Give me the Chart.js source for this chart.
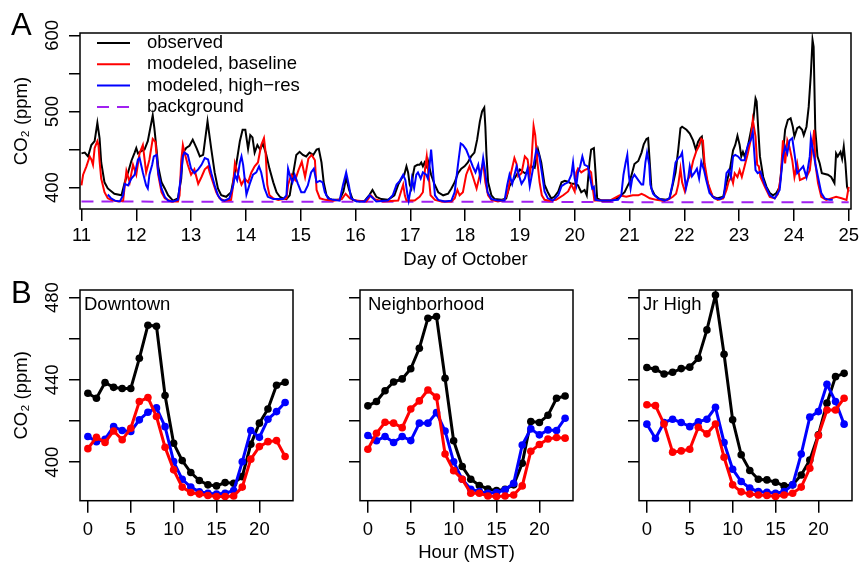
<!DOCTYPE html>
<html>
<head>
<meta charset="utf-8">
<script src="https://cdn.jsdelivr.net/npm/chart.js@4.4.1/dist/chart.umd.min.js"></script>
<style>
  html, body { margin: 0; padding: 0; background: #fff; overflow: hidden; }
  #wrap { position: relative; width: 859px; height: 563px; font-family: "Liberation Sans", Arial, sans-serif; }
  canvas { position: absolute; }
  .tag { position: absolute; font-size: 31px; line-height: 31px; color: #000; }
</style>
</head>
<body>
<div id="wrap">
  <canvas id="chartA" width="859" height="280" style="left:0;top:0"></canvas>
  <canvas id="chartB1" width="300" height="283" style="left:0;top:280px"></canvas>
  <canvas id="chartB2" width="300" height="283" style="left:280px;top:280px"></canvas>
  <canvas id="chartB3" width="300" height="283" style="left:559px;top:280px"></canvas>
  <div class="tag" style="left:11px;top:9px">A</div>
  <div class="tag" style="left:11px;top:277px">B</div>
</div>
<script>
// panel A: CO2 at the site, 11-25 October  [day, ppm]
const dayTicks = [11, 12, 13, 14, 15, 16, 17, 18, 19, 20, 21, 22, 23, 24, 25];
const ppmTicksA = [400, 450, 500, 550, 600];
const ppmLabelsA = [400, 500, 600];

const observed = [[11.00,445],[11.06,446],[11.12,441],[11.18,456],[11.24,461],[11.29,485],[11.33,465],[11.36,433],[11.42,407],[11.48,399],[11.60,392],[11.73,390],[11.79,407],[11.85,420],[11.91,435],[11.97,446],[12.00,452],[12.03,445],[12.09,448],[12.15,450],[12.21,461],[12.30,495],[12.33,478],[12.37,450],[12.40,428],[12.46,407],[12.52,399],[12.58,390],[12.67,383],[12.76,386],[12.82,412],[12.85,446],[12.91,452],[12.97,455],[13.03,463],[13.10,452],[13.16,441],[13.22,443],[13.30,487],[13.37,450],[13.43,420],[13.49,399],[13.55,390],[13.64,388],[13.73,394],[13.79,417],[13.83,433],[13.89,461],[13.94,476],[13.99,476],[14.04,451],[14.08,469],[14.12,466],[14.16,446],[14.21,456],[14.26,450],[14.31,458],[14.37,444],[14.43,425],[14.50,407],[14.56,394],[14.62,388],[14.68,386],[14.74,385],[14.80,390],[14.86,417],[14.92,443],[14.98,447],[15.04,443],[15.10,441],[15.16,446],[15.23,443],[15.29,450],[15.33,451],[15.38,433],[15.42,407],[15.47,390],[15.53,385],[15.59,384],[15.71,384],[15.78,395],[15.83,413],[15.88,398],[15.95,384],[16.08,382],[16.17,383],[16.26,391],[16.31,397],[16.38,388],[16.47,385],[16.59,384],[16.71,390],[16.78,404],[16.84,412],[16.89,417],[16.93,428],[16.96,420],[16.99,404],[17.02,399],[17.05,417],[17.08,428],[17.13,430],[17.17,430],[17.20,433],[17.23,428],[17.26,433],[17.29,428],[17.32,436],[17.38,417],[17.44,405],[17.51,394],[17.60,390],[17.69,392],[17.75,399],[17.81,407],[17.87,419],[17.93,425],[17.99,428],[18.05,433],[18.11,441],[18.17,446],[18.22,463],[18.27,487],[18.31,500],[18.35,505],[18.37,480],[18.39,443],[18.42,407],[18.48,390],[18.54,385],[18.66,384],[18.75,386],[18.81,402],[18.90,412],[19.00,424],[19.09,419],[19.15,421],[19.21,428],[19.27,426],[19.33,450],[19.39,433],[19.45,404],[19.51,394],[19.57,386],[19.63,388],[19.70,395],[19.76,407],[19.82,409],[19.88,408],[19.94,405],[20.00,405],[20.06,403],[20.12,394],[20.18,397],[20.22,390],[20.27,433],[20.30,450],[20.35,452],[20.38,420],[20.41,386],[20.49,383],[20.64,383],[20.76,385],[20.85,390],[20.91,394],[20.97,403],[21.00,407],[21.05,420],[21.09,431],[21.16,435],[21.22,446],[21.26,457],[21.31,464],[21.34,465],[21.37,433],[21.40,399],[21.46,390],[21.55,385],[21.67,384],[21.73,386],[21.79,404],[21.84,420],[21.89,450],[21.93,478],[21.96,480],[22.04,476],[22.10,471],[22.16,462],[22.21,450],[22.25,460],[22.29,465],[22.32,467],[22.36,432],[22.40,414],[22.46,397],[22.52,388],[22.61,386],[22.71,388],[22.77,406],[22.83,423],[22.89,449],[22.93,456],[22.97,468],[23.01,456],[23.04,441],[23.07,447],[23.10,441],[23.16,454],[23.22,476],[23.26,489],[23.30,517],[23.32,513],[23.35,476],[23.38,441],[23.44,414],[23.50,401],[23.56,393],[23.62,390],[23.68,393],[23.74,401],[23.80,445],[23.84,476],[23.89,489],[23.94,491],[23.98,480],[24.01,467],[24.06,478],[24.10,480],[24.15,476],[24.18,469],[24.23,480],[24.27,506],[24.31,550],[24.34,594],[24.36,585],[24.39,476],[24.43,441],[24.47,432],[24.51,419],[24.62,417],[24.68,414],[24.74,406],[24.77,445],[24.80,441],[24.85,447],[24.88,438],[24.91,454],[24.94,432],[24.97,401],[25.00,395]];

const baseline = [[11.00,403],[11.03,417],[11.09,428],[11.15,441],[11.18,437],[11.21,430],[11.24,452],[11.29,461],[11.31,456],[11.33,435],[11.36,412],[11.42,394],[11.48,386],[11.54,384],[11.67,382],[11.76,383],[11.82,422],[11.88,407],[11.94,430],[12.00,417],[12.06,445],[12.12,456],[12.18,420],[12.24,437],[12.30,464],[12.35,460],[12.40,417],[12.46,394],[12.52,386],[12.64,382],[12.76,382],[12.79,390],[12.82,435],[12.85,456],[12.88,446],[12.94,430],[13.00,417],[13.06,424],[13.13,405],[13.19,414],[13.25,424],[13.31,428],[13.34,420],[13.40,407],[13.46,394],[13.52,386],[13.61,383],[13.73,384],[13.76,399],[13.80,432],[13.86,417],[13.92,404],[13.98,412],[14.04,407],[14.10,420],[14.16,428],[14.22,433],[14.28,456],[14.33,465],[14.36,446],[14.39,404],[14.43,390],[14.50,386],[14.59,384],[14.74,386],[14.77,404],[14.83,417],[14.90,410],[14.96,423],[15.02,434],[15.08,414],[15.14,438],[15.20,443],[15.26,436],[15.29,397],[15.35,386],[15.45,384],[15.60,383],[15.75,385],[15.82,392],[15.90,386],[16.00,383],[16.20,382],[16.28,390],[16.35,385],[16.50,382],[16.78,383],[16.81,390],[16.87,404],[16.90,390],[16.93,383],[17.08,383],[17.17,388],[17.23,394],[17.27,425],[17.30,441],[17.34,412],[17.37,390],[17.45,384],[17.57,382],[17.75,382],[17.81,386],[17.86,397],[17.90,390],[17.96,394],[18.02,417],[18.08,428],[18.14,415],[18.21,399],[18.27,417],[18.33,433],[18.37,407],[18.42,390],[18.48,384],[18.60,382],[18.72,384],[18.78,394],[18.84,420],[18.90,439],[18.94,431],[18.97,415],[19.03,419],[19.09,441],[19.14,437],[19.18,417],[19.21,433],[19.25,481],[19.28,469],[19.32,433],[19.36,407],[19.40,390],[19.45,384],[19.54,383],[19.66,384],[19.79,390],[19.88,395],[19.94,404],[20.00,395],[20.03,420],[20.06,425],[20.12,420],[20.18,423],[20.24,425],[20.30,420],[20.33,399],[20.36,383],[20.64,383],[20.82,390],[20.94,388],[21.06,390],[21.16,390],[21.22,392],[21.28,390],[21.37,386],[21.49,384],[21.61,383],[21.70,384],[21.79,388],[21.85,392],[21.89,404],[21.93,425],[21.96,407],[22.01,395],[22.06,410],[22.10,415],[22.16,435],[22.22,448],[22.27,455],[22.31,464],[22.34,462],[22.37,432],[22.43,406],[22.52,388],[22.61,384],[22.71,386],[22.77,397],[22.81,408],[22.86,414],[22.89,406],[22.92,419],[22.97,414],[23.01,423],[23.05,414],[23.10,428],[23.16,445],[23.21,462],[23.25,489],[23.30,467],[23.33,430],[23.36,428],[23.39,414],[23.47,401],[23.56,388],[23.65,386],[23.71,392],[23.76,414],[23.80,462],[23.84,432],[23.88,462],[23.92,453],[23.97,436],[24.01,414],[24.06,432],[24.11,410],[24.17,412],[24.23,414],[24.29,423],[24.33,449],[24.37,476],[24.39,432],[24.44,406],[24.50,388],[24.59,384],[24.68,386],[24.77,388],[24.87,386],[24.96,384],[25.00,401]];

const highres = [[11.48,391],[11.54,386],[11.61,383],[11.70,382],[11.76,390],[11.79,405],[11.85,403],[11.91,412],[11.97,417],[12.03,437],[12.06,439],[12.12,420],[12.18,403],[12.21,399],[12.24,417],[12.29,430],[12.32,441],[12.37,443],[12.40,420],[12.46,399],[12.52,388],[12.58,383],[12.67,382],[12.76,384],[12.81,412],[12.85,441],[12.88,446],[12.94,443],[13.00,425],[13.06,419],[13.13,424],[13.19,430],[13.25,439],[13.31,437],[13.37,419],[13.43,403],[13.49,390],[13.55,384],[13.61,383],[13.70,386],[13.77,403],[13.80,417],[13.84,410],[13.89,433],[13.92,441],[13.95,430],[14.01,391],[14.07,405],[14.13,417],[14.19,420],[14.24,428],[14.28,420],[14.34,399],[14.40,388],[14.50,385],[14.68,385],[14.74,390],[14.77,425],[14.80,417],[14.85,407],[14.89,417],[14.95,405],[15.01,394],[15.07,394],[15.13,403],[15.19,420],[15.24,425],[15.29,407],[15.35,409],[15.40,407],[15.44,394],[15.50,386],[15.59,384],[15.71,383],[15.77,403],[15.83,420],[15.88,403],[15.92,386],[16.02,382],[16.17,382],[16.26,390],[16.32,386],[16.38,382],[16.59,383],[16.68,390],[16.75,404],[16.81,409],[16.87,417],[16.91,410],[16.95,390],[16.97,383],[17.01,399],[17.03,412],[17.07,399],[17.11,417],[17.14,420],[17.19,412],[17.23,420],[17.29,417],[17.32,412],[17.35,428],[17.38,450],[17.41,425],[17.45,390],[17.51,384],[17.63,382],[17.75,383],[17.81,394],[17.87,430],[17.92,458],[17.96,456],[18.02,450],[18.08,439],[18.14,428],[18.19,420],[18.24,430],[18.28,412],[18.33,439],[18.36,425],[18.41,394],[18.48,385],[18.60,383],[18.72,383],[18.77,404],[18.81,417],[18.86,405],[18.94,428],[18.98,417],[19.03,405],[19.09,412],[19.14,425],[19.18,402],[19.24,425],[19.30,450],[19.35,443],[19.40,420],[19.45,395],[19.51,386],[19.60,383],[19.70,390],[19.76,402],[19.82,405],[19.88,407],[19.94,417],[19.97,433],[20.00,412],[20.03,403],[20.06,420],[20.10,428],[20.14,441],[20.18,430],[20.24,428],[20.27,417],[20.32,399],[20.35,401],[20.38,384],[20.46,383],[20.64,383],[20.79,384],[20.85,390],[20.89,417],[20.93,433],[20.96,443],[20.99,415],[21.02,399],[21.05,412],[21.09,417],[21.16,410],[21.22,404],[21.25,404],[21.29,433],[21.32,446],[21.36,430],[21.38,404],[21.43,392],[21.52,386],[21.64,383],[21.73,386],[21.79,407],[21.84,433],[21.89,439],[21.93,441],[21.96,446],[21.99,425],[22.03,399],[22.07,412],[22.10,428],[22.14,415],[22.19,420],[22.23,425],[22.27,412],[22.31,434],[22.36,423],[22.40,410],[22.46,393],[22.55,386],[22.65,385],[22.72,388],[22.77,419],[22.81,423],[22.85,414],[22.89,441],[22.93,443],[22.98,441],[23.04,436],[23.10,436],[23.16,456],[23.21,462],[23.25,473],[23.30,423],[23.34,419],[23.39,421],[23.47,404],[23.56,390],[23.65,386],[23.74,397],[23.80,441],[23.84,454],[23.88,445],[23.92,462],[23.97,465],[24.01,445],[24.06,419],[24.11,423],[24.17,428],[24.23,414],[24.29,441],[24.31,465],[24.35,449],[24.39,432],[24.44,414],[24.50,393],[24.56,386],[24.65,384],[24.71,384]];

const bgDays = [11, 13, 15, 17, 19, 21, 23, 25];
const bgPpm = [382, 381.5, 381.5, 381.5, 381.5, 381, 381, 381];

// panel B: mean diurnal cycle per site
const hours = [0,1,2,3,4,5,6,7,8,9,10,11,12,13,14,15,16,17,18,19,20,21,22,23];
const hourTicks = [0, 5, 10, 15, 20];
const ppmTicksB = [400, 420, 440, 460, 480];
const ppmLabelsB = [400, 440, 480];

const obsDown   = [433.5,431.1,438.7,436.4,435.8,435.8,450.5,466.6,466.1,432.4,409.2,400.8,395.0,391.1,389.0,388.5,390.1,389.8,393.0,408.7,419.0,425.9,437.4,438.9];
const baseDown  = [406.6,412.1,409.6,415.2,410.9,416.5,429.5,431.4,422.2,407.3,396.3,387.9,385.3,384.5,383.8,383.3,383.3,383.6,387.9,401.5,407.6,410.0,410.5,402.8];
const hiresDown = [412.5,410.0,411.2,417.3,415.4,414.9,420.6,424.3,426.4,417.3,400.3,391.7,387.9,385.6,384.9,384.5,384.9,386.2,400.2,415.4,412.1,420.9,424.6,429.0];

const obsNbhd   = [427.4,429.5,434.7,439.0,440.5,445.4,455.4,470.0,470.8,440.8,410.4,397.9,391.7,388.7,387.0,386.2,386.9,389.0,399.5,419.8,419.3,422.8,431.1,432.2];
const baseNbhd  = [406.3,414.1,419.4,419.0,416.8,425.9,429.8,435.1,431.7,404.0,395.9,391.7,384.9,384.9,383.6,383.3,383.6,384.1,388.5,405.3,408.6,411.3,412.0,411.7];
const hiresNbhd = [413.0,410.4,412.5,409.6,412.5,410.5,419.0,419.0,424.1,415.2,400.2,391.7,386.9,385.7,384.9,385.3,386.6,389.8,408.4,416.2,413.3,415.7,415.4,421.4];

const obsJr   = [446.0,445.2,442.9,443.7,445.5,446.2,450.5,464.3,481.3,452.5,420.6,403.6,396.0,391.7,391.4,390.3,388.5,389.0,393.8,401.1,413.3,428.7,441.6,443.2];
const baseJr  = [427.9,427.5,418.6,404.9,405.5,406.3,417.0,413.8,418.6,402.4,389.0,385.6,384.5,384.1,383.8,383.3,384.1,384.9,387.9,397.1,413.0,425.4,425.4,431.1];
const hiresJr = [418.5,411.5,419.3,420.9,419.3,417.3,419.6,420.9,426.7,409.6,396.6,390.6,387.4,385.7,385.4,384.9,385.7,389.0,404.0,421.9,424.6,437.9,429.5,418.5];

const FAMILY = "'Liberation Sans', Arial, sans-serif";
const FONT = { family: FAMILY, size: 18.5 };
Chart.defaults.color = "#000";
Chart.defaults.font.family = FAMILY;

// box around the plot region
const frame = {
  id: "frame",
  afterDraw(chart) {
    const { ctx, chartArea: a } = chart;
    ctx.save();
    ctx.strokeStyle = "#000";
    ctx.lineWidth = 1.5;
    ctx.strokeRect(a.left, a.top, a.right - a.left, a.bottom - a.top);
    ctx.restore();
  },
};

// legend drawn inside the top-left corner of panel A
const insetLegend = {
  id: "insetLegend",
  afterDraw(chart) {
    const { ctx, chartArea: a } = chart;
    ctx.save();
    ctx.font = "18.5px " + FAMILY;
    ctx.textBaseline = "middle";
    chart.data.datasets.forEach((ds, i) => {
      const y = a.top + 10 + i * 21.3;
      ctx.strokeStyle = ds.borderColor;
      ctx.lineWidth = 2;
      ctx.setLineDash(ds.borderDash || []);
      ctx.beginPath();
      ctx.moveTo(a.left + 17, y);
      ctx.lineTo(a.left + 50, y);
      ctx.stroke();
      ctx.setLineDash([]);
      ctx.fillStyle = "#000";
      ctx.fillText(ds.label, a.left + 67, y);
    });
    ctx.restore();
  },
};

// site name in the corner of each panel B plot
const siteName = {
  id: "siteName",
  afterDraw(chart, args, opts) {
    const { ctx, chartArea: a } = chart;
    ctx.save();
    ctx.font = "18.5px " + FAMILY;
    ctx.textBaseline = "middle";
    ctx.fillStyle = "#000";
    ctx.fillText(opts.text, a.left + opts.dx, a.top + 15);
    ctx.restore();
  },
};

function xAxis(ticks, min, max, height, pad, title, titlePad) {
  return {
    type: "linear", min: min, max: max,
    afterBuildTicks: (s) => { s.ticks = ticks.map((v) => ({ value: v })); },
    afterFit: (s) => { s.height = height; s.paddingLeft = 0; s.paddingRight = 0; },
    border: { display: false },
    grid: { drawOnChartArea: false, tickLength: 12, lineWidth: 1.5, color: "#000" },
    ticks: { font: FONT, color: "#000", maxRotation: 0, minRotation: 0, padding: pad, autoSkip: false },
    title: { display: !!title, text: title, font: { family: FAMILY, size: 18.5, lineHeight: 1 }, color: "#000", padding: { top: 0, bottom: titlePad } },
  };
}

function yAxis(ticks, labels, min, max, title) {
  return {
    min: min, max: max,
    afterBuildTicks: (s) => { s.ticks = ticks.map((v) => ({ value: v })); },
    afterFit: (s) => { s.width = 80; s.paddingTop = 0; s.paddingBottom = 0; },
    border: { display: false },
    grid: { drawOnChartArea: false, tickLength: 11, lineWidth: 1.5, color: "#000" },
    ticks: {
      font: FONT, color: "#000", minRotation: 90, maxRotation: 90, crossAlign: "center", padding: 1,
      callback: (v) => (labels.includes(v) ? String(v) : ""),
    },
    title: { display: !!title, text: title, font: { family: FAMILY, size: 18.5, lineHeight: 1 }, color: "#000", padding: { top: 13, bottom: 0 } },
  };
}

// ---- panel A ----
new Chart(document.getElementById("chartA"), {
  type: "line",
  data: {
    datasets: [
      { label: "observed", data: observed, borderColor: "#000000", borderWidth: 2, order: 3 },
      { label: "modeled, baseline", data: baseline, borderColor: "#FF0000", borderWidth: 2, order: 2 },
      { label: "modeled, high\u2212res", data: highres, borderColor: "#0000FF", borderWidth: 2, order: 1 },
      { label: "background", data: bgDays.map((d, i) => [d, bgPpm[i]]), borderColor: "#A020F0", borderWidth: 2, borderDash: [12, 8], order: 4 },
    ],
  },
  options: {
    responsive: false, animation: false, devicePixelRatio: 1,
    layout: { padding: { left: 0, right: 8, top: 33, bottom: 0 } },
    elements: { point: { radius: 0 }, line: { tension: 0 } },
    plugins: { legend: { display: false }, tooltip: { enabled: false } },
    scales: {
      x: xAxis(dayTicks, 10.973, 25.042, 71, 4, "Day of October", 11),
      y: yAxis(ppmTicksA, ppmLabelsA, 372, 603, "CO\u2082 (ppm)"),
    },
  },
  plugins: [frame, insetLegend],
});

// ---- panel B ----
function sitePanel(id, name, dx, obs, base, hires, showY, xTitle) {
  const pts = (vals) => hours.map((h, i) => ({ x: h, y: vals[i] }));
  const ds = (data, color, order) => ({
    data: pts(data), borderColor: color, backgroundColor: color,
    pointBackgroundColor: color, pointBorderWidth: 0, pointRadius: 3.8, borderWidth: 3, order: order,
  });
  return new Chart(document.getElementById(id), {
    type: "line",
    data: { datasets: [ds(obs, "#000000", 3), ds(hires, "#0000FF", 2), ds(base, "#FF0000", 1)] },
    options: {
      responsive: false, animation: false, devicePixelRatio: 1,
      layout: { padding: { left: 0, right: 7, top: 10, bottom: 0 } },
      elements: { line: { tension: 0 } },
      plugins: { legend: { display: false }, tooltip: { enabled: false }, siteName: { text: name, dx: dx } },
      scales: {
        x: xAxis(hourTicks, -0.92, 23.92, 62.3, 6, xTitle, 1),
        y: yAxis(ppmTicksB, showY ? ppmLabelsB : [], 381.3, 483.7, showY ? "CO\u2082 (ppm)" : ""),
      },
    },
    plugins: [frame, siteName],
  });
}

sitePanel("chartB1", "Downtown", 4, obsDown, baseDown, hiresDown, true, "");
sitePanel("chartB2", "Neighborhood", 8, obsNbhd, baseNbhd, hiresNbhd, false, "Hour (MST)");
sitePanel("chartB3", "Jr High", 4, obsJr, baseJr, hiresJr, false, "");
</script>
</body>
</html>
